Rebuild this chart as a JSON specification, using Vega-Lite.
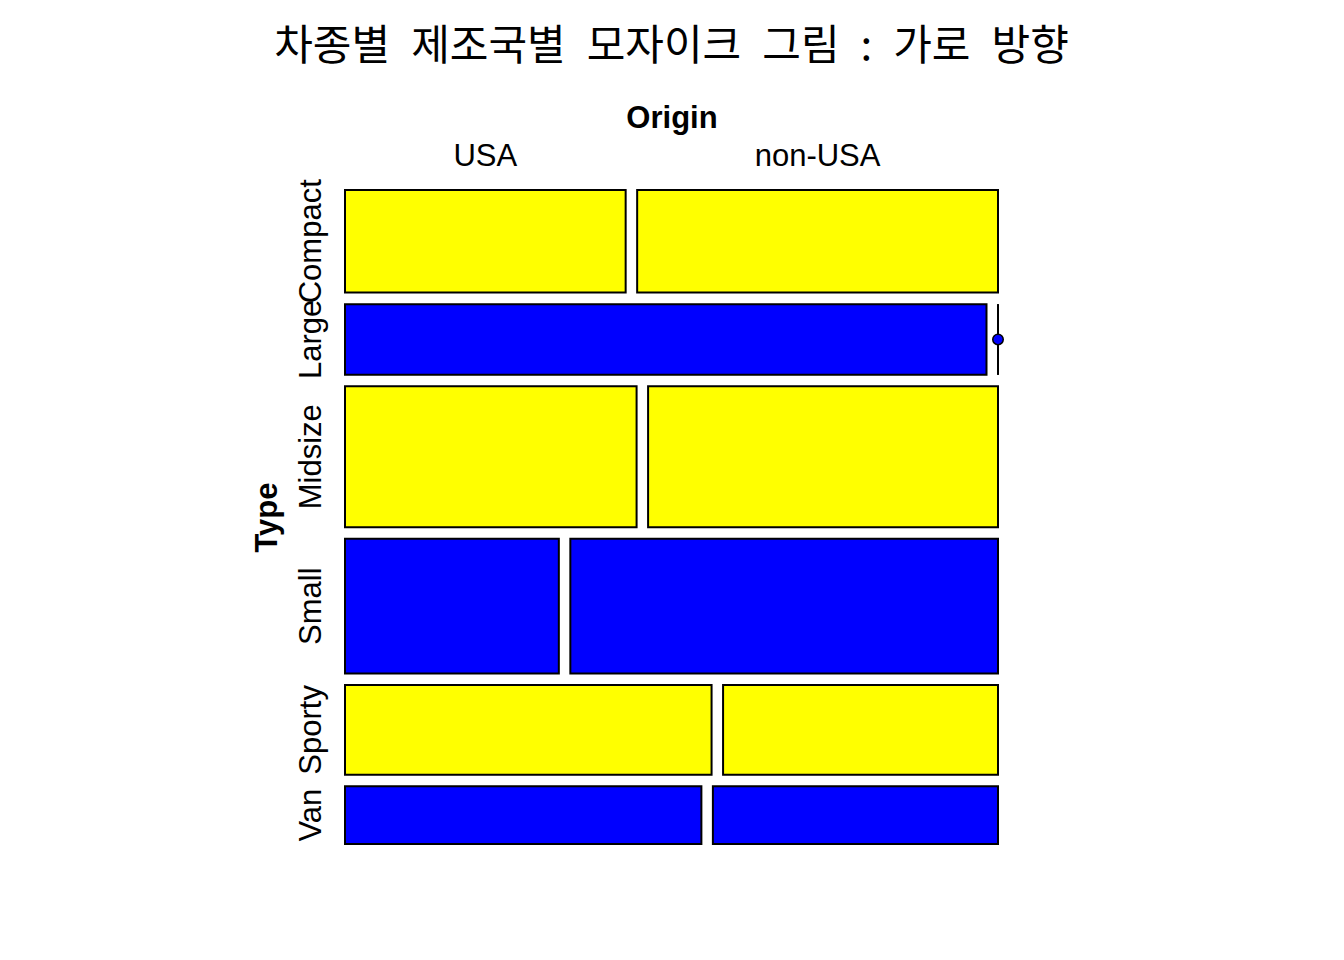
{
  "$schema": "https://vega.github.io/schema/vega-lite/v6.json",
  "width": 653,
  "height": 654,
  "autosize": {"type": "none"},
  "padding": {"left": 345, "top": 190, "right": 346, "bottom": 116},
  "background": "white",
  "title": {
    "text": "차종별\u2002제조국별\u2002모자이크\u2002그림\u2002:\u2002가로\u2002방향",
    "font": "Noto Sans CJK KR",
    "fontSize": 42,
    "fontWeight": "normal",
    "color": "black",
    "anchor": "middle",
    "frame": "group",
    "offset": 33
  },
  "config": {"view": {"stroke": null}, "font": "Liberation Sans"},
  "data": {
    "values": [
      {"Type": "Compact", "Origin": "USA", "n": 7},
      {"Type": "Compact", "Origin": "non-USA", "n": 9},
      {"Type": "Large", "Origin": "USA", "n": 11},
      {"Type": "Large", "Origin": "non-USA", "n": 0},
      {"Type": "Midsize", "Origin": "USA", "n": 10},
      {"Type": "Midsize", "Origin": "non-USA", "n": 12},
      {"Type": "Small", "Origin": "USA", "n": 7},
      {"Type": "Small", "Origin": "non-USA", "n": 14},
      {"Type": "Sporty", "Origin": "USA", "n": 8},
      {"Type": "Sporty", "Origin": "non-USA", "n": 6},
      {"Type": "Van", "Origin": "USA", "n": 5},
      {"Type": "Van", "Origin": "non-USA", "n": 4}
    ]
  },
  "transform": [
    {"stack": "n", "groupby": ["Type"], "sort": [{"field": "Origin", "order": "ascending"}], "offset": "normalize", "as": ["px0", "px1"]},
    {"stack": "n", "groupby": [], "sort": [{"field": "Type", "order": "ascending"}, {"field": "Origin", "order": "ascending"}], "as": ["sy0", "sy1"]},
    {"joinaggregate": [{"op": "min", "field": "sy0", "as": "ty0"}, {"op": "max", "field": "sy1", "as": "ty1"}], "groupby": ["Type"]},
    {"window": [{"op": "dense_rank", "as": "ti"}], "sort": [{"field": "Type", "order": "ascending"}]},
    {"calculate": "datum.Origin === 'USA' ? 0 : 1", "as": "oi"},
    {"calculate": "datum.px0 * 641.5 + datum.oi * 11.5", "as": "x0"},
    {"calculate": "datum.px1 * 641.5 + datum.oi * 11.5", "as": "x1"},
    {"calculate": "datum.ty0 * 6.409 + (datum.ti - 1) * 11.6", "as": "y0"},
    {"calculate": "datum.ty1 * 6.409 + (datum.ti - 1) * 11.6", "as": "y1"},
    {"calculate": "(datum.x0 + datum.x1) / 2", "as": "xm"},
    {"calculate": "(datum.y0 + datum.y1) / 2", "as": "ym"}
  ],
  "layer": [
    {
      "mark": {"type": "rect", "stroke": "black", "strokeWidth": 2},
      "encoding": {
        "x": {"field": "x0", "type": "quantitative", "scale": {"domain": [0, 653], "nice": false, "zero": false},
          "axis": {"orient": "top", "title": "Origin", "titleFontSize": 31, "titleFontWeight": "bold", "titleColor": "black", "titleFont": "Liberation Sans", "labels": false, "ticks": false, "domain": false, "grid": false, "titlePadding": 56}},
        "x2": {"field": "x1"},
        "y": {"field": "y0", "type": "quantitative", "scale": {"domain": [0, 654], "nice": false, "zero": false, "reverse": true},
          "axis": {"orient": "left", "title": "Type", "titleFontSize": 31, "titleFontWeight": "bold", "titleColor": "black", "titleFont": "Liberation Sans", "labels": false, "ticks": false, "domain": false, "grid": false, "titlePadding": 62}},
        "y2": {"field": "y1"},
        "color": {"field": "Type", "type": "nominal",
          "scale": {"domain": ["Compact", "Large", "Midsize", "Small", "Sporty", "Van"], "range": ["#FFFF00", "#0000FF", "#FFFF00", "#0000FF", "#FFFF00", "#0000FF"]},
          "legend": null}
      }
    },
    {
      "transform": [{"filter": "datum.n === 0"}],
      "mark": {"type": "rule", "color": "black", "strokeWidth": 2},
      "encoding": {
        "x": {"field": "x0", "type": "quantitative"},
        "y": {"field": "y0", "type": "quantitative"},
        "y2": {"field": "y1"}
      }
    },
    {
      "transform": [{"filter": "datum.n === 0"}],
      "mark": {"type": "point", "shape": "circle", "filled": true, "fill": "#0000FF", "stroke": "black", "strokeWidth": 1.5, "size": 110, "opacity": 1},
      "encoding": {
        "x": {"field": "x0", "type": "quantitative"},
        "y": {"field": "ym", "type": "quantitative"}
      }
    },
    {
      "transform": [{"filter": "datum.Type === 'Compact'"}],
      "mark": {"type": "text", "fontSize": 31, "font": "Liberation Sans", "color": "black", "align": "center", "baseline": "alphabetic", "dy": -24},
      "encoding": {
        "x": {"field": "xm", "type": "quantitative"},
        "y": {"field": "y0", "type": "quantitative"},
        "text": {"field": "Origin"}
      }
    },
    {
      "transform": [{"filter": "datum.Origin === 'USA'"}],
      "mark": {"type": "text", "fontSize": 31, "font": "Liberation Sans", "color": "black", "align": "center", "baseline": "alphabetic", "angle": 270, "dy": -24},
      "encoding": {
        "x": {"field": "x0", "type": "quantitative"},
        "y": {"field": "ym", "type": "quantitative"},
        "text": {"field": "Type"}
      }
    }
  ]
}
